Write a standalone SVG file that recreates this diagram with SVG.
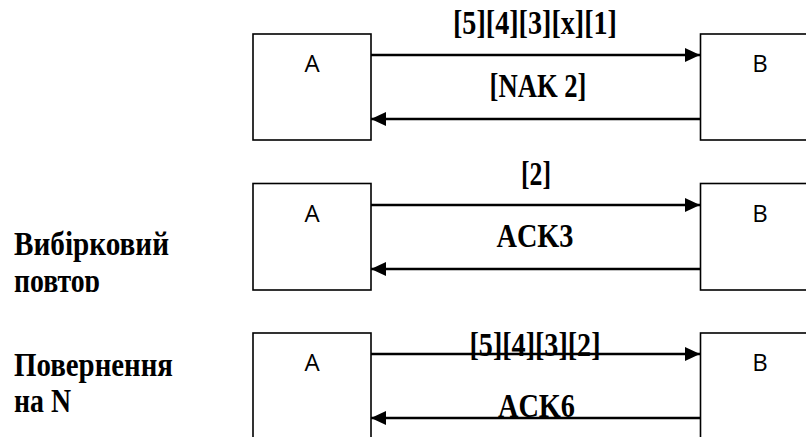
<svg xmlns="http://www.w3.org/2000/svg" width="806" height="437" viewBox="0 0 806 437">
<style>
.box{fill:#fff;stroke:#000;stroke-width:1.6}
.ar{stroke:#000;stroke-width:2.5;fill:none}
.n{font-family:"Open Sans","Liberation Sans",sans-serif;font-size:24px;fill:#000;text-anchor:middle}
.lb{font-family:"Liberation Serif","Times New Roman",serif;font-weight:bold;font-size:33px;fill:#000}
.c{text-anchor:middle}
</style>
<defs>
<marker id="ah" markerWidth="15" markerHeight="14" refX="15" refY="7" orient="auto" markerUnits="userSpaceOnUse">
<path d="M0,0 L15,7 L0,14 Z" fill="#000"/>
</marker>
<clipPath id="clipL"><rect x="0" y="0" width="240" height="292"/></clipPath>
</defs>
<g id="labels-left">
<text class="lb" x="14" y="255" textLength="155" lengthAdjust="spacingAndGlyphs">Вибірковий</text>
<text class="lb" x="14" y="292" textLength="86" lengthAdjust="spacingAndGlyphs" clip-path="url(#clipL)">повтор</text>
<text class="lb" x="14" y="376" textLength="159" lengthAdjust="spacingAndGlyphs">Повернення</text>
<text class="lb" x="14" y="412" textLength="57" lengthAdjust="spacingAndGlyphs">на N</text>
</g>
<g id="row1-A"><rect class="box" x="253" y="34" width="118" height="106"/><text class="n" x="312" y="72">A</text></g>
<g id="row1-B"><rect class="box" x="700.5" y="34" width="120" height="106"/><text class="n" x="760" y="72">B</text></g>
<g id="row2-A"><rect class="box" x="253" y="183.5" width="118" height="106.5"/><text class="n" x="312" y="222">A</text></g>
<g id="row2-B"><rect class="box" x="700.5" y="183.5" width="120" height="106.5"/><text class="n" x="760" y="222">B</text></g>
<g id="row3-A"><rect class="box" x="253" y="333" width="118" height="120"/><text class="n" x="312" y="371">A</text></g>
<g id="row3-B"><rect class="box" x="700.5" y="333" width="120" height="120"/><text class="n" x="760" y="371">B</text></g>
<g id="connectors">
<line class="ar" x1="371" y1="55" x2="700" y2="55" marker-end="url(#ah)"/>
<line class="ar" x1="700" y1="119" x2="371" y2="119" marker-end="url(#ah)"/>
<line class="ar" x1="371" y1="205" x2="700" y2="205" marker-end="url(#ah)"/>
<line class="ar" x1="700" y1="269" x2="371" y2="269" marker-end="url(#ah)"/>
<text class="lb c" x="535" y="34" textLength="164" lengthAdjust="spacingAndGlyphs">[5][4][3][x][1]</text>
<text class="lb c" x="538" y="97" textLength="97" lengthAdjust="spacingAndGlyphs">[NAK 2]</text>
<text class="lb c" x="536" y="185" textLength="30" lengthAdjust="spacingAndGlyphs">[2]</text>
<text class="lb c" x="535" y="247" textLength="77" lengthAdjust="spacingAndGlyphs">ACK3</text>
<text class="lb c" x="535" y="356" textLength="131" lengthAdjust="spacingAndGlyphs">[5][4][3][2]</text>
<text class="lb c" x="536.5" y="417" textLength="77" lengthAdjust="spacingAndGlyphs">ACK6</text>
<line class="ar" x1="371" y1="354" x2="700" y2="354" marker-end="url(#ah)"/>
<line class="ar" x1="700" y1="418" x2="371" y2="418" marker-end="url(#ah)"/>
</g>
</svg>
